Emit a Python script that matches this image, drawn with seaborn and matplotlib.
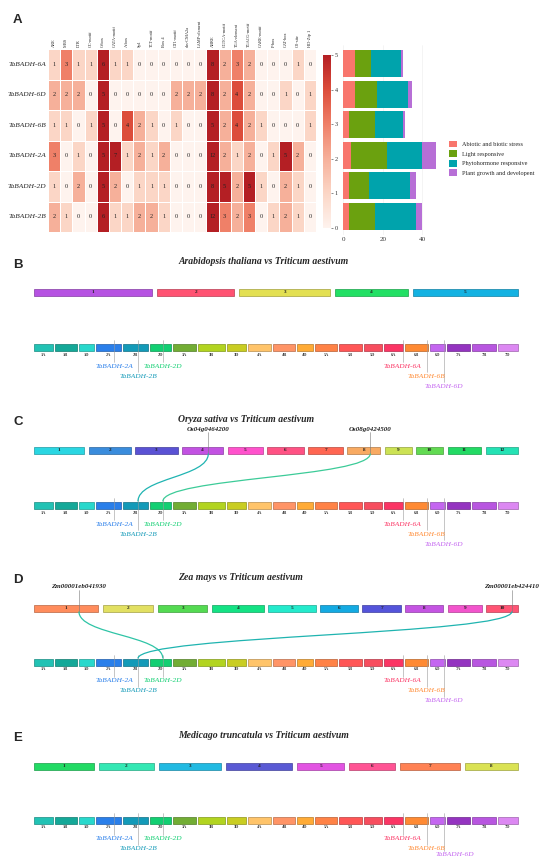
import numpy as np
import pandas as pd
import matplotlib
matplotlib.use("Agg")
import matplotlib.pyplot as plt
import seaborn as sns
from matplotlib.colors import LinearSegmentedColormap, to_rgb
from matplotlib.path import Path
from matplotlib.patches import PathPatch, Rectangle, Patch

# ---------------- panel A data ----------------
elements = ['ARE', 'MBS', 'LTR', 'GC-motif', 'G-box', 'GATA-motif', 'A-box', 'Sp1',
            'TCT-motif', 'Box 4', 'GT1-motif', 'chs-CMA2a', 'LAMP-element', 'ABRE',
            'CGTCA-motif', 'TGA-element', 'TGACG-motif', 'GARE-motif', 'P-box',
            'CAT-box', 'O2-site', 'HD-Zip 1']
genes = ['TaBADH-6A', 'TaBADH-6D', 'TaBADH-6B', 'TaBADH-2A', 'TaBADH-2D', 'TaBADH-2B']
counts_6A = [1, 3, 1, 1, 6, 1, 1, 0, 0, 0, 0, 0, 0, 8, 2, 3, 2, 0, 0, 0, 1, 0]
counts_6D = [2, 2, 2, 0, 5, 0, 0, 0, 0, 0, 2, 2, 2, 8, 2, 4, 2, 0, 0, 1, 0, 1]
counts_6B = [1, 1, 0, 1, 5, 0, 4, 2, 1, 0, 1, 0, 0, 5, 2, 4, 2, 1, 0, 0, 0, 1]
counts_2A = [3, 0, 1, 0, 5, 7, 1, 2, 1, 2, 0, 0, 0, 12, 2, 1, 2, 0, 1, 5, 2, 0]
counts_2D = [1, 0, 2, 0, 5, 2, 0, 1, 1, 1, 0, 0, 0, 8, 5, 2, 5, 1, 0, 2, 1, 0]
counts_2B = [2, 1, 0, 0, 6, 1, 1, 2, 2, 1, 0, 0, 0, 12, 3, 2, 3, 0, 1, 2, 1, 0]

categories = ['Abiotic and biotic stress', 'Light responsive',
              'Phytohormone responsive', 'Plant growth and developent']
abiotic = [6, 6, 3, 4, 3, 3]
light = [8, 11, 13, 18, 10, 13]
phyto = [15, 16, 14, 18, 21, 21]
growth = [1, 2, 1, 7, 3, 3]
cat_colors = ['#F8766D', '#6BA10F', '#00A3AC', '#B76FD6']

# ---------------- synteny data ----------------
wheat_chroms = ['1A', '1B', '1D', '2A', '2B', '2D', '3A', '3B', '3D', '4A', '4B', '4D',
                '5A', '5B', '5D', '6A', '6B', '6D', '7A', '7B', '7D']
wheat_len = [594, 690, 495, 781, 801, 651, 751, 830, 615, 745, 674, 510,
             710, 713, 566, 618, 721, 474, 737, 751, 639]
wheat_colors = ['#22c2b4', '#14a898', '#28d8cc', '#2a7fea', '#139ab8', '#12cf72',
                '#72ad34', '#b2d420', '#c9cd22', '#ffc46a', '#ff9466', '#ffab36',
                '#ff8246', '#ff5656', '#f74d5e', '#fb3564', '#ff8a33', '#c466f0',
                '#9434c0', '#b856e0', '#dc88f2']

badh_genes = ['TaBADH-2A', 'TaBADH-2B', 'TaBADH-2D', 'TaBADH-6A', 'TaBADH-6B', 'TaBADH-6D']
badh_chrom = ['2A', '2B', '2D', '6A', '6B', '6D']
badh_pos = [562, 480, 403, 605, 686, 442]
badh_tier = [0, 1, 0, 0, 1, 2]

ath_len = [30.4, 19.7, 23.5, 18.6, 27.0]
ath_colors = ['#b652e2', '#ff5272', '#e3e052', '#22e064', '#14b2e2']

osa_len = [43.3, 35.9, 36.4, 35.5, 30.0, 31.2, 29.7, 28.4, 23.0, 23.2, 29.0, 27.5]
osa_colors = ['#2ad6e2', '#3a8cdc', '#5a52d4', '#c252e2', '#ff52cc', '#ff5284',
              '#ff6652', '#f8aa62', '#cce254', '#62da52', '#22da64', '#24e2b4']
osa_genes = ['Os04g0464200', 'Os08g0424500']
osa_gene_chr = [4, 8]
osa_gene_pos = [22.5, 19.8]
osa_targets = ['TaBADH-2B', 'TaBADH-2D']
osa_link_colors = ['#20b4b2', '#3ccb98']

zma_len = [308.5, 243.7, 238.0, 250.3, 226.4, 181.4, 185.8, 182.4, 163.0, 152.4]
zma_colors = ['#ff8c5c', '#e2e062', '#54da52', '#14e284', '#24eacc', '#14aae2',
              '#5454da', '#c454e2', '#f254cc', '#ff5474']
zma_genes = ['Zm00001eb041930', 'Zm00001eb424410']
zma_gene_chr = [1, 10]
zma_gene_pos = [216, 123]
zma_targets = ['TaBADH-2D', 'TaBADH-2B']
zma_link_colors = ['#2ec4a6', '#1fb4b0']

mtr_len = [51.3, 47.0, 53.0, 57.3, 40.2, 39.3, 51.3, 45.3]
mtr_colors = ['#22da64', '#34e8b4', '#22bae2', '#5a5ad4', '#e254e2', '#ff5494',
              '#ff8254', '#dae254']

# ---------------- figure ----------------
sns.set_theme(style="white")
plt.rcParams['font.family'] = ['Liberation Serif', 'DejaVu Serif']

W, H = 550, 868
fig = plt.figure(figsize=(W / 100, H / 100), dpi=100)


def box(x0, y0, x1, y1):
    return [x0 / W, 1 - y1 / H, (x1 - x0) / W, (y1 - y0) / H]


ax_s = fig.add_axes([0, 0, 1, 1])
ax_s.set_xlim(0, W)
ax_s.set_ylim(H, 0)
ax_s.axis('off')

# heatmap
heat = pd.DataFrame([counts_6A, counts_6D, counts_6B, counts_2A, counts_2D, counts_2B],
                    index=genes, columns=elements)
cmap = LinearSegmentedColormap.from_list(
    'cis', ['#fef3ee', '#fbd6c6', '#f6b09a', '#ef8068', '#dc4d3b', '#b41f24'])
ax_h = fig.add_axes(box(48, 49, 316, 232))
cax = fig.add_axes(box(323, 55, 331, 228))
sns.heatmap(heat, ax=ax_h, cbar_ax=cax, cmap=cmap, vmin=0, vmax=5, annot=True,
            fmt='d', linewidths=0.5, linecolor='white',
            xticklabels=True, yticklabels=True,
            annot_kws={'fontsize': 4.5, 'color': '#222222'})
ax_h.xaxis.tick_top()
for t in ax_h.get_xticklabels():
    t.set_rotation(90)
    t.set_fontsize(3.2)
for t in ax_h.get_yticklabels():
    t.set_rotation(0)
    t.set_fontsize(5.3)
    t.set_fontstyle('italic')
ax_h.tick_params(length=0, pad=1.5)
ax_h.set_xlabel('')
ax_h.set_ylabel('')
cax.tick_params(labelsize=4.5, length=1.5, width=0.4, pad=1, colors='#333333')
ax_h.collections[0].colorbar.outline.set_visible(False)

# stacked bars
ax_b = fig.add_axes(box(341, 45, 442, 235))
stack = [np.array(abiotic), np.array(light), np.array(phyto), np.array(growth)]
cum = np.cumsum(stack, axis=0)
for k in range(3, -1, -1):
    sns.barplot(x=cum[k], y=genes, ax=ax_b, color=cat_colors[k], orient='h',
                width=0.88, saturation=1, linewidth=0)
ax_b.set_xlim(-1.2, 50)
ax_b.set_ylim(5.6, -0.6)
ax_b.set_xticks([0, 20, 40])
ax_b.set_yticks([])
ax_b.grid(axis='both', color='#ececec', linewidth=0.4)
ax_b.set_axisbelow(True)
for s in ax_b.spines.values():
    s.set_visible(False)
ax_b.tick_params(axis='x', labelsize=5, length=0, pad=1.5, colors='#333333')
ax_b.set_xlabel('')
ax_b.set_ylabel('')
handles = [Patch(facecolor=c, edgecolor='none') for c in cat_colors]
fig.legend(handles, categories, loc='upper left', bbox_to_anchor=(446 / W, 1 - 138 / H),
           frameon=False, fontsize=4.5, handlelength=1.3, handleheight=1.3,
           labelspacing=0.45, handletextpad=0.8, borderaxespad=0)

# ---------------- synteny panels ----------------
X0, X1 = 34, 518
CH = 7


def darker(c, f=0.72):
    return tuple(v * f for v in to_rgb(c))


def layout(lengths, gap):
    lengths = np.asarray(lengths, float)
    scale = (X1 - X0 - gap * (len(lengths) - 1)) / lengths.sum()
    starts = X0 + np.concatenate([[0], np.cumsum(lengths[:-1] * scale + gap)])
    return starts, scale


def draw_row(starts, scale, lengths, colors, yc, names, inside):
    for s, L, c, nm in zip(starts, lengths, colors, names):
        ax_s.add_patch(Rectangle((s, yc - CH / 2), L * scale, CH, facecolor=c,
                                 edgecolor=darker(c), linewidth=0.5, zorder=2))
        if inside:
            ax_s.text(s + L * scale / 2, yc, nm, ha='center', va='center', fontsize=3.8,
                      fontweight='bold', color='#222222', zorder=3)
        else:
            ax_s.text(s + L * scale / 2, yc + CH / 2 + 2, nm, ha='center', va='top',
                      fontsize=3.2, fontweight='bold', color='#444444', zorder=3)


def link(x0, y0, x1, y1, color):
    ym = (y0 + y1) / 2
    p = Path([(x0, y0), (x0, ym), (x1, ym), (x1, y1)],
             [Path.MOVETO, Path.CURVE4, Path.CURVE4, Path.CURVE4])
    ax_s.add_patch(PathPatch(p, facecolor='none', edgecolor=color, linewidth=0.9, zorder=4))


w_starts, w_scale = layout(wheat_len, 2)


def wheat_x(gene):
    i = badh_genes.index(gene)
    j = wheat_chroms.index(badh_chrom[i])
    return w_starts[j] + badh_pos[i] * w_scale


panels = [
    ('B', 'Arabidopsis thaliana', ath_len, ath_colors, 5, 262, 292, 347, None),
    ('C', 'Oryza sativa', osa_len, osa_colors, 4.5, 419, 450, 505,
     (osa_genes, osa_gene_chr, osa_gene_pos, osa_targets, osa_link_colors)),
    ('D', 'Zea mays', zma_len, zma_colors, 4.5, 577, 608, 662,
     (zma_genes, zma_gene_chr, zma_gene_pos, zma_targets, zma_link_colors)),
    ('E', 'Medicago truncatula', mtr_len, mtr_colors, 5, 735, 766, 820, None),
]

ax_s.text(13, 20, 'A', fontsize=9.5, fontweight='bold', family='Liberation Sans',
          ha='left', va='center')

for letter, sp, lens, cols, gap, ty, yt, yw, links in panels:
    ax_s.text(13, ty + 3, letter, fontsize=9.5, fontweight='bold',
              family='Liberation Sans', ha='left', va='center')
    ax_s.text(178, ty, f'{sp} vs Triticum aestivum', fontsize=7, fontweight='bold',
              style='italic', ha='left', va='center')
    t_starts, t_scale = layout(lens, gap)
    draw_row(t_starts, t_scale, lens, cols, yt, [str(i + 1) for i in range(len(lens))], True)
    draw_row(w_starts, w_scale, wheat_len, wheat_colors, yw, wheat_chroms, False)
    for i, g in enumerate(badh_genes):
        x = wheat_x(g)
        tier = badh_tier[i]
        ly = yw + 19 + 10 * tier
        lx = x
        if letter == 'E' and tier == 2:
            ly = yw + 35
            lx = x + 11
        ax_s.plot([x, x], [yw - CH / 2 - 4, ly - 4], color='#9a9a9a', linewidth=0.4, zorder=3)
        col = wheat_colors[wheat_chroms.index(badh_chrom[i])]
        ax_s.text(lx, ly, g, ha='center', va='center', fontsize=5.3, style='italic',
                  color=col, zorder=5)
    if links:
        names, chrs, poss, targets, lcols = links
        for nm, c, p, tg, lc in zip(names, chrs, poss, targets, lcols):
            x = t_starts[c - 1] + p * t_scale
            ax_s.text(x, yt - 21, nm, ha='center', va='center', fontsize=5,
                      fontweight='bold', style='italic', color='#222222', zorder=5)
            ax_s.plot([x, x], [yt - 18, yt + CH / 2], color='#777777', linewidth=0.4, zorder=3)
            link(x, yt + CH / 2, wheat_x(tg), yw - CH / 2, lc)

fig.savefig('out.png', dpi=100)
